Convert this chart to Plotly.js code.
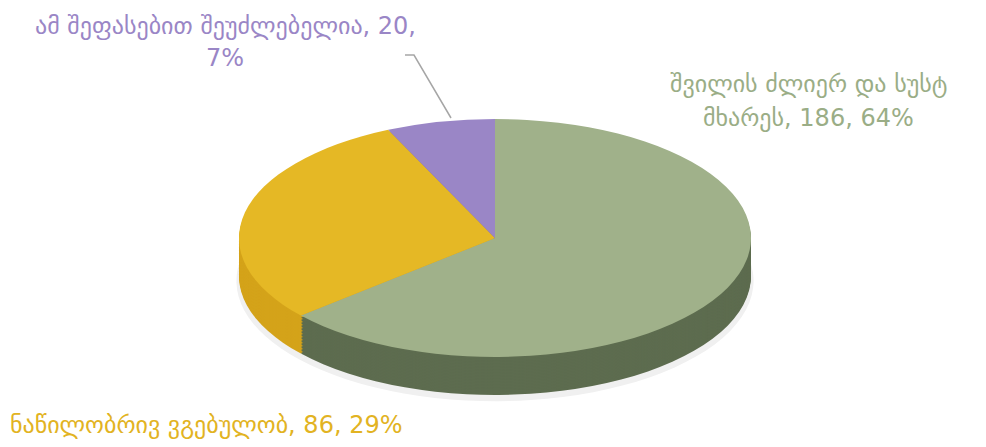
<!DOCTYPE html>
<html><head><meta charset="utf-8">
<script src="https://cdn.plot.ly/plotly-3.0.1.min.js"></script>
<style>html,body{margin:0;padding:0;background:#fff;}#chart{width:986px;height:447px;}</style>
</head><body><div id="chart"></div>
<script>
// ---- data ----
const categories = ['შვილის ძლიერ და სუსტ მხარეს', 'ნაწილობრივ ვგებულობ', 'ამ შეფასებით შეუძლებელია'];
const values = [186, 86, 20];
const percents = ['64%', '29%', '7%'];
// label text split into display lines
const labelLines = [
  ['შვილის ძლიერ და სუსტ', 'მხარეს, 186, 64%'],
  ['ნაწილობრივ ვგებულობ, 86, 29%'],
  ['ამ შეფასებით შეუძლებელია, 20,', '7%']
];
const topColors = ['#a0b18a', '#e5b825', '#9a86c6'];
const sideColors = ['#5d6c4f', '#d4a31a', '#7d68a8'];
const labelColors = ['#9aad86', '#e2b322', '#9a86c6'];

const W = 986, H = 447;
const cx = 495, cy = 238, rx = 256, ry = 119, depth = 38;

const traces = [];
const offsets = [];
// shadow
traces.push({type:'pie', values: values, labels: categories, sort:false, direction:'clockwise',
  textinfo:'none', hoverinfo:'skip', showlegend:false,
  marker:{colors:['#f0f0f0','#f0f0f0','#f0f0f0']}, domain:{x:[0,1],y:[0,1]}});
offsets.push({dy: depth + 5, s: 1.01});
for (let d = depth; d >= 1; d -= 1.5) {
  traces.push({type:'pie', values: values, labels: categories, sort:false, direction:'clockwise',
    textinfo:'none', hoverinfo:'skip', showlegend:false,
    marker:{colors: sideColors}, domain:{x:[0,1],y:[0,1]}});
  offsets.push({dy: d, s: 1});
}
traces.push({type:'pie', values: values, labels: categories, sort:false, direction:'clockwise',
  textinfo:'none', hoverinfo:'skip', showlegend:false,
  marker:{colors: topColors}, domain:{x:[0,1],y:[0,1]}});
offsets.push({dy: 0, s: 1});

const px = x => x / W, py = y => 1 - y / H;
const annotations = [];
const font = 'DejaVu Sans, sans-serif';
function addLines(lines, color, x, y0, lh, anchor) {
  lines.forEach((t, i) => annotations.push({text: t, xref:'paper', yref:'paper', x: px(x), y: py(y0 + i*lh),
    xanchor: anchor, yanchor:'middle', showarrow:false, font:{family:font, size:24, color: color}}));
}
addLines(labelLines[0], labelColors[0], 808, 84, 34, 'center');
addLines(labelLines[1], labelColors[1], 8, 425, 32, 'left');
addLines(labelLines[2], labelColors[2], 225, 26, 32, 'center');

const shapes = [{type:'path', xref:'paper', yref:'paper',
  path: `M ${px(405)},${py(55)} L ${px(414)},${py(55)} L ${px(451)},${py(118)}`,
  line:{color:'#a6a6a6', width:1.5}}];

const layout = {width: W, height: H, margin:{l:0,r:0,t:0,b:0}, paper_bgcolor:'#fff',
  showlegend:false, annotations: annotations, shapes: shapes};

Plotly.newPlot('chart', traces, layout, {staticPlot:true, displayModeBar:false}).then(gd => {
  const groups = gd.querySelectorAll('.pielayer .trace');
  const r0 = Math.min(W, H) / 2, c0x = W / 2, c0y = H / 2;
  groups.forEach((g, i) => {
    const o = offsets[i];
    const sx = rx / r0 * o.s, sy = ry / r0 * o.s;
    const tx = cx - sx * c0x, ty = cy + o.dy - sy * c0y;
    g.setAttribute('transform', `matrix(${sx},0,0,${sy},${tx},${ty})`);
  });
});
</script></body></html>
